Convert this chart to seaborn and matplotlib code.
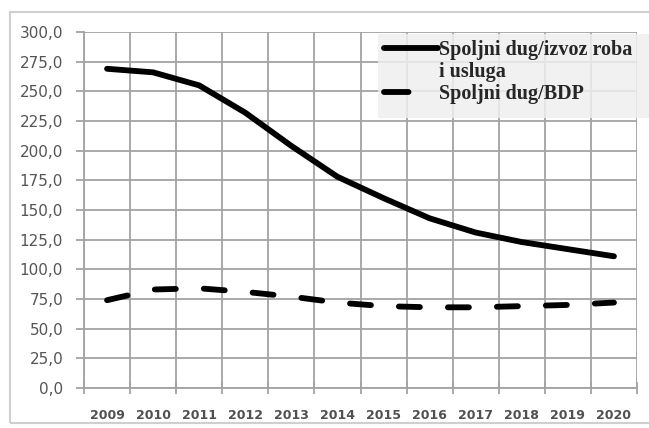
import matplotlib
matplotlib.use("Agg")
import matplotlib.pyplot as plt
from matplotlib.lines import Line2D
from matplotlib.patches import Rectangle
from matplotlib.ticker import FixedLocator, FuncFormatter
import seaborn as sns
import pandas as pd

# Data
years = ["2009", "2010", "2011", "2012", "2013", "2014",
         "2015", "2016", "2017", "2018", "2019", "2020"]
dug_izvoz = [269, 266, 255, 232, 204, 178, 160, 143, 131, 123, 117, 111]
dug_bdp = [74, 83, 84, 81, 77, 72, 69, 68, 68, 69, 70, 72]
label_izvoz = "Spoljni dug/izvoz roba"
label_izvoz_2 = "i usluga"
label_bdp = "Spoljni dug/BDP"
y_ticks = [0, 25, 50, 75, 100, 125, 150, 175, 200, 225, 250, 275, 300]

sns.set_theme(style="white")

W, H = 649, 428
fig = plt.figure(figsize=(W / 100, H / 100), dpi=100)
ax = fig.add_axes([84 / W, 1 - 388 / H, (637 - 84) / W, (388 - 32) / H])

df = pd.DataFrame({"x": range(len(years)), "izvoz": dug_izvoz, "bdp": dug_bdp})

LW = 4.2
DASH = (3.6, 4.8)

sns.lineplot(data=df, x="x", y="izvoz", ax=ax, color="black", lw=LW,
             solid_capstyle="round", solid_joinstyle="round", legend=False)
sns.lineplot(data=df, x="x", y="bdp", ax=ax, color="black", lw=LW,
             dashes=False, legend=False)
dash_line = ax.lines[-1]
dash_line.set_dashes(DASH)
dash_line.set_dash_capstyle("round")

ax.set_xlim(-0.5, len(years) - 0.5)
ax.set_ylim(0, 300)

# category labels at centres, grid/ticks at category boundaries
ax.set_xticks(range(len(years)))
ax.set_xticklabels(years)
ax.xaxis.set_minor_locator(FixedLocator([i - 0.5 for i in range(len(years) + 1)]))
ax.set_yticks(y_ticks)
ax.yaxis.set_major_formatter(FuncFormatter(lambda v, p: f"{v:.1f}".replace(".", ",")))

grid_c = "#a3a3a3"
ax.grid(False)
ax.xaxis.grid(True, which="minor", color=grid_c, lw=1.3)
ax.yaxis.grid(True, which="major", color=grid_c, lw=1.3)
ax.set_axisbelow(True)

ax.tick_params(axis="x", which="major", length=0, pad=15, labelsize=9,
               labelcolor="#505050")
for t in ax.get_xticklabels():
    t.set_fontweight("bold")
ax.tick_params(axis="x", which="minor", length=8, direction="inout",
               color=grid_c, width=1.3, bottom=True)
ax.tick_params(axis="y", which="major", length=6, direction="out",
               color=grid_c, width=1.3, left=True, pad=9, labelsize=11,
               labelcolor="#555555")

for side in ["top", "right"]:
    ax.spines[side].set_visible(False)
for side in ["left", "bottom"]:
    ax.spines[side].set_color(grid_c)
    ax.spines[side].set_linewidth(1.3)

ax.set_xlabel("")
ax.set_ylabel("")

# legend background panel
fig.add_artist(Rectangle((378 / W, 1 - 118 / H), (W - 378) / W, (118 - 34) / H,
                         transform=fig.transFigure, facecolor="#efefef",
                         edgecolor="none", alpha=0.85, zorder=2))

# legend
handles = [
    Line2D([], [], color="black", lw=LW, solid_capstyle="round"),
    Line2D([], [], color="none", lw=0),
    Line2D([], [], color="black", lw=LW, dashes=(4.2, 12), dash_capstyle="round"),
]
leg = fig.legend(handles, [label_izvoz, label_izvoz_2, label_bdp],
                 loc="upper left", bbox_to_anchor=(378 / W, 1 - 34 / H),
                 bbox_transform=fig.transFigure, frameon=False,
                 borderpad=0.3, borderaxespad=0, handlelength=2.7,
                 handletextpad=0.05, labelspacing=0.1,
                 prop={"family": "Liberation Serif", "size": 14.5,
                       "weight": "bold"})
leg.set_zorder(5)

# outer frame of the chart area
fig.add_artist(Rectangle((10 / W, 1 - 423 / H), (W + 20 - 10) / W, (423 - 12) / H,
                         transform=fig.transFigure, fill=False,
                         edgecolor="#cfcfcf", lw=1.5))

fig.savefig("out.png", dpi=100)
